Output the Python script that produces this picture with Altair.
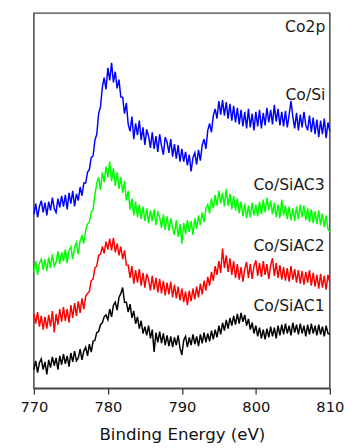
import altair as alt
import pandas as pd

# Binding energy grid (eV), 0.25 eV steps from 770 to 810
energy = [770 + 0.25 * i for i in range(161)]

co_si = [
    178, 189, 175, 186, 192, 180, 190, 177, 191, 182, 195, 184, 180, 194, 185, 197,
    186, 198, 183, 200, 189, 202, 186, 199, 192, 206, 197, 210, 210, 221, 224, 236,
    238, 254, 260, 281, 288, 308, 318, 306, 328, 315, 333, 313, 324, 307, 316, 298,
    298, 281, 292, 270, 263, 278, 255, 271, 259, 274, 254, 267, 249, 265, 258, 246,
    262, 245, 258, 242, 260, 248, 239, 257, 252, 241, 255, 237, 250, 235, 249, 232,
    245, 232, 242, 228, 239, 222, 236, 241, 229, 244, 233, 249, 255, 245, 264, 271,
    262, 279, 286, 276, 294, 280, 295, 279, 293, 276, 291, 274, 289, 272, 287, 270,
    285, 268, 283, 266, 286, 267, 281, 264, 283, 268, 285, 266, 282, 269, 287, 272,
    285, 270, 290, 273, 286, 269, 283, 268, 284, 267, 280, 294, 278, 266, 282, 264,
    280, 267, 283, 269, 264, 279, 262, 277, 260, 275, 257, 274, 260, 276, 256, 272,
    263,
]

co_siac3 = [
    119, 130, 116, 128, 132, 121, 132, 120, 134, 123, 137, 125, 129, 140, 127, 139,
    130, 142, 128, 141, 145, 132, 144, 149, 137, 151, 156, 148, 162, 168, 170, 180,
    183, 198, 210, 216, 203, 221, 211, 227, 216, 232, 212, 225, 207, 221, 204, 216,
    200, 212, 192, 202, 183, 194, 177, 191, 175, 188, 173, 186, 171, 184, 169, 182,
    171, 183, 167, 180, 175, 164, 178, 162, 176, 161, 174, 164, 157, 172, 155, 168,
    148, 169, 158, 172, 160, 171, 157, 174, 163, 177, 167, 180, 170, 184, 188, 179,
    194, 184, 198, 187, 202, 189, 200, 186, 204, 187, 199, 183, 197, 182, 194, 179,
    191, 176, 189, 174, 187, 175, 190, 177, 188, 176, 191, 178, 193, 180, 195, 182,
    192, 178, 190, 175, 188, 174, 193, 177, 187, 173, 186, 172, 184, 171, 186, 173,
    188, 175, 187, 172, 184, 170, 183, 169, 181, 168, 182, 167, 179, 165, 177, 163,
    160,
]

co_siac2 = [
    76, 66, 78, 63, 74, 60, 73, 61, 75, 63, 79, 57, 76, 65, 81, 68,
    83, 69, 81, 67, 85, 72, 87, 74, 89, 77, 92, 81, 94, 97, 99, 110,
    112, 123, 125, 136, 137, 145, 138, 150, 142, 153, 141, 154, 139, 148, 136, 145,
    132, 141, 126, 126, 113, 125, 107, 121, 108, 122, 105, 118, 103, 117, 111, 100,
    115, 101, 113, 98, 112, 97, 110, 95, 108, 96, 109, 93, 106, 92, 104, 90,
    102, 88, 99, 85, 100, 89, 102, 91, 104, 93, 107, 96, 110, 100, 114, 105,
    119, 110, 125, 116, 130, 118, 143, 123, 136, 119, 133, 116, 130, 113, 127, 111,
    124, 109, 122, 129, 113, 127, 112, 125, 131, 115, 128, 114, 130, 116, 127, 112,
    126, 133, 115, 128, 113, 126, 111, 124, 110, 123, 109, 125, 111, 122, 108, 121,
    107, 120, 106, 119, 108, 121, 105, 118, 104, 116, 102, 117, 103, 115, 101, 116,
    108,
]

co_siac1 = [
    19, 28, 16, 26, 30, 19, 27, 14, 29, 21, 32, 23, 31, 19, 33, 24,
    35, 25, 33, 22, 36, 27, 38, 28, 31, 40, 29, 38, 42, 33, 45, 37,
    48, 49, 57, 58, 65, 67, 73, 75, 70, 81, 73, 85, 88, 80, 93, 97,
    103, 88, 88, 78, 86, 72, 79, 66, 73, 61, 69, 56, 63, 54, 64, 51,
    60, 37, 57, 47, 58, 46, 56, 44, 54, 43, 53, 42, 52, 44, 54, 41,
    34, 49, 53, 42, 52, 44, 55, 45, 53, 43, 55, 46, 57, 47, 56, 48,
    59, 50, 60, 52, 64, 55, 67, 59, 70, 61, 72, 64, 74, 65, 76, 66,
    77, 68, 75, 64, 71, 60, 67, 56, 64, 53, 62, 51, 60, 50, 61, 52,
    63, 53, 62, 51, 64, 54, 65, 55, 66, 56, 64, 54, 67, 57, 65, 55,
    66, 56, 64, 53, 65, 55, 66, 56, 64, 54, 65, 55, 63, 53, 64, 56,
    55,
]

series_names = ["Co/Si", "Co/SiAC3", "Co/SiAC2", "Co/SiAC1"]
series_colors = ["#0000ff", "#00ff00", "#ff0000", "#000000"]
series_values = [co_si, co_siac3, co_siac2, co_siac1]

label_texts = ["Co2p", "Co/Si", "Co/SiAC3", "Co/SiAC2", "Co/SiAC1"]
label_x = [809.4, 809.4, 809.3, 809.3, 809.3]
label_y = [365, 295, 203, 140, 79]

x_ticks = [770, 775, 780, 785, 790, 795, 800, 805, 810]

rows = []
for name, vals in zip(series_names, series_values):
    n = min(len(vals), len(energy))
    for e, v in zip(energy[:n], vals[:n]):
        rows.append({"energy": e, "intensity": v, "sample": name})
df = pd.DataFrame(rows)

labels_df = pd.DataFrame({"text": label_texts, "x": label_x, "y": label_y})

x_scale = alt.Scale(domain=[770, 810], nice=False, zero=False)
y_scale = alt.Scale(domain=[0, 384], nice=False, zero=False)

lines = alt.Chart(df).mark_line(strokeWidth=1.5, interpolate="linear").encode(
    x=alt.X(
        "energy:Q",
        scale=x_scale,
        title="Binding Energy (eV)",
        axis=alt.Axis(
            values=x_ticks,
            labelExpr="datum.value % 10 == 0 ? datum.label : ''",
            tickSize={"condition": {"test": "datum.value % 10 == 0", "value": 6}, "value": 3},
            tickColor="#333333",
            tickWidth=1.3,
            domainColor="#444444",
            domainWidth=1.5,
            grid=False,
            labelFont="DejaVu Sans",
            labelFontSize=15,
            labelColor="#111111",
            labelPadding=6,
            titleFont="DejaVu Sans",
            titleFontSize=17,
            titleFontWeight="normal",
            titleColor="#111111",
            titlePadding=13,
            labelFlush=False,
        ),
    ),
    y=alt.Y("intensity:Q", scale=y_scale, axis=None),
    color=alt.Color(
        "sample:N",
        scale=alt.Scale(domain=series_names, range=series_colors),
        legend=None,
    ),
    detail="sample:N",
)

texts = alt.Chart(labels_df).mark_text(
    align="right",
    baseline="alphabetic",
    font="DejaVu Sans",
    fontSize=16,
    color="#1a1a1a",
).encode(
    x=alt.X("x:Q", scale=x_scale),
    y=alt.Y("y:Q", scale=y_scale),
    text="text:N",
)

chart = (
    alt.layer(lines, texts)
    .properties(
        width=303,
        height=384,
        autosize=alt.AutoSizeParams(type="none"),
        padding={"left": 26.5, "top": 0, "right": 14.5, "bottom": 56},
        background="white",
    )
    .configure_view(stroke="#444444", strokeWidth=1.5)
)

chart.save("out.html", embed_options={"renderer": "svg", "actions": False})
